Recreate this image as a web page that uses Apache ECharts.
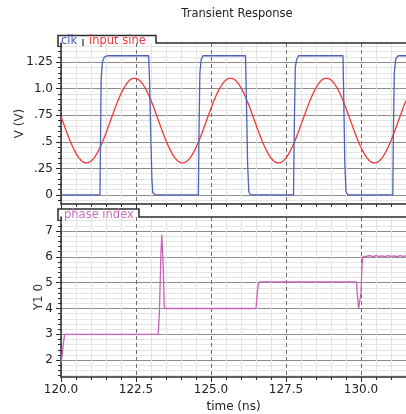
<!DOCTYPE html>
<html>
<head>
<meta charset="utf-8">
<script src="https://cdn.jsdelivr.net/npm/echarts@6/dist/echarts.min.js"></script>
<style>
html,body{margin:0;padding:0;background:#fff;}
#chart{width:406px;height:414px;}
</style>
</head>
<body>
<div id="chart"></div>
<script>
// ---- data ----
const titleText = 'Transient Response';
const xTickValues = [120.0, 122.5, 125.0, 127.5, 130.0];
const xTickLabels = ['120.0', '122.5', '125.0', '127.5', '130.0'];
const topYTickValues = [0, 0.25, 0.5, 0.75, 1.0, 1.25];
const topYTickLabels = ['0', '.25', '.5', '.75', '1.0', '1.25'];
const botYTickValues = [2, 3, 4, 5, 6, 7];
const botYTickLabels = ['2', '3', '4', '5', '6', '7'];

// clk (V)
const clkTime = [120.00, 121.30, 121.32, 121.34, 121.38, 121.45, 121.55, 122.92, 122.95, 122.98, 123.03, 123.06, 123.15,
  124.58, 124.60, 124.63, 124.67, 124.73, 126.15, 126.18, 126.22, 126.26, 126.32,
  127.75, 127.78, 127.81, 127.85, 127.92, 129.40, 129.42, 129.46, 129.50, 129.56,
  131.06, 131.08, 131.11, 131.16, 131.24, 131.50];
const clkValue = [0, 0, 0.6, 1.1, 1.25, 1.30, 1.31, 1.31, 1.1, 0.7, 0.15, 0.02, 0,
  0, 0.6, 1.15, 1.27, 1.31, 1.31, 0.9, 0.3, 0.03, 0,
  0, 0.7, 1.2, 1.27, 1.31, 1.31, 1.0, 0.3, 0.03, 0,
  0, 0.6, 1.15, 1.28, 1.31, 1.31];

// input sine (V), sampled every 0.1 ns from 120.0 ns
const sineStart = 120.0;
const sineStep = 0.1;
const sineValue = [
  0.739, 0.661, 0.584, 0.511, 0.446, 0.391, 0.347, 0.317, 0.302, 0.302, 0.317, 0.347, 0.391, 0.446, 0.511, 0.584,
  0.661, 0.739, 0.816, 0.889, 0.954, 1.009, 1.053, 1.083, 1.098, 1.098, 1.083, 1.053, 1.009, 0.954, 0.889, 0.816,
  0.739, 0.661, 0.584, 0.511, 0.446, 0.391, 0.347, 0.317, 0.302, 0.302, 0.317, 0.347, 0.391, 0.446, 0.511, 0.584,
  0.661, 0.739, 0.816, 0.889, 0.954, 1.009, 1.053, 1.083, 1.098, 1.098, 1.083, 1.053, 1.009, 0.954, 0.889, 0.816,
  0.739, 0.661, 0.584, 0.511, 0.446, 0.391, 0.347, 0.317, 0.302, 0.302, 0.317, 0.347, 0.391, 0.446, 0.511, 0.584,
  0.661, 0.739, 0.816, 0.889, 0.954, 1.009, 1.053, 1.083, 1.098, 1.098, 1.083, 1.053, 1.009, 0.954, 0.889, 0.816,
  0.739, 0.661, 0.584, 0.511, 0.446, 0.391, 0.347, 0.317, 0.302, 0.302, 0.317, 0.347, 0.391, 0.446, 0.511, 0.584,
  0.661, 0.739, 0.816, 0.889
];

// phase index
const phaseTime = [120.00, 120.03, 120.06, 120.08, 120.10, 120.12, 123.24, 123.26, 123.28, 123.30, 123.33, 123.36, 123.39,
  123.41, 123.44, 123.47, 126.50, 126.55, 126.58, 126.62, 129.85, 129.88, 129.92, 129.97, 130.00, 130.03, 130.06,
  130.20, 130.30, 130.40, 130.50, 130.60, 130.70, 130.80, 130.90, 131.00, 131.10, 131.20, 131.30, 131.40, 131.50];
const phaseValue = [1.95, 2.1, 2.1, 2.65, 2.7, 3.0, 3.0, 2.95, 3.85, 3.9, 6.1, 6.85, 6.8,
  5.5, 4.1, 4.0, 4.0, 4.7, 4.95, 5.03, 5.03, 4.5, 4.0, 4.0, 4.6, 5.6, 6.0,
  6.03, 6.05, 6.01, 6.05, 6.02, 6.04, 6.01, 6.05, 6.02, 6.04, 6.01, 6.05, 6.02, 6.04];

// ---- build ----
const pairs = (xs, ys) => xs.map((x, i) => [x, ys[i]]);
const sineData = sineValue.map((v, i) => [+(sineStart + i * sineStep).toFixed(2), v]);
const lab = (vals, labels) => (v) => {
  for (let i = 0; i < vals.length; i++) if (Math.abs(vals[i] - v) < 1e-6) return labels[i];
  return '';
};
// minor grid positions (5 subdivisions between labelled ticks)
function minorPositions(majors, lo, hi) {
  const step = (majors[1] - majors[0]) / 5;
  const out = [];
  for (let v = majors[0] - step * Math.floor((majors[0] - lo) / step); v <= hi + 1e-9; v += step) {
    out.push(+v.toFixed(4));
  }
  return out;
}

const FONT = 'DejaVu Sans';
const axisDark = '#2b2b2b';
const majorGrid = '#8c8c8c';
const minorGrid = '#e4e4e4';

const TOP_MIN = -0.085, TOP_MAX = 1.43;
const BOT_MIN = 1.35, BOT_MAX = 7.54;

function xAxisCfg(gridIndex, showLabels) {
  return {
    type: 'value', gridIndex, position: 'bottom', min: 120, max: 131.5, interval: 2.5,
    axisLine: { show: true, onZero: false, lineStyle: { color: axisDark, width: 1.5 } },
    axisTick: { show: true, length: 5, lineStyle: { color: axisDark } },
    minorTick: { show: true, splitNumber: 5, length: 3, lineStyle: { color: axisDark } },
    axisLabel: { show: showLabels, formatter: lab(xTickValues, xTickLabels), color: '#222', fontFamily: FONT, fontSize: 12, margin: 7, showMaxLabel: false },
    splitLine: { show: true, lineStyle: { color: '#6e6e6e', type: [4, 3], width: 1 } },
    minorSplitLine: { show: true, lineStyle: { color: minorGrid, width: 1 } },
    name: showLabels ? 'time (ns)' : '', nameLocation: 'middle', nameGap: 24, nameMoveOverlap: false,
    nameTextStyle: { color: '#222', fontFamily: FONT, fontSize: 12 }
  };
}

// minor y axis: light grid + short ticks
function yMinorCfg(gridIndex, min, max, majors) {
  return {
    type: 'value', gridIndex, position: 'left', min, max,
    axisLine: { show: false },
    axisTick: { show: true, length: 3, customValues: minorPositions(majors, min, max), lineStyle: { color: axisDark } },
    axisLabel: { show: false },
    splitLine: { show: true, lineStyle: { color: minorGrid, width: 1 } }
  };
}
// major y axis: labels, long ticks, dark grid
function yMajorCfg(gridIndex, min, max, vals, labels, name, nameGap) {
  return {
    type: 'value', gridIndex, position: 'left', min, max,
    axisLine: { show: true, onZero: false, lineStyle: { color: axisDark, width: 1.5 } },
    axisTick: { show: true, length: 5, customValues: vals, lineStyle: { color: axisDark } },
    axisLabel: { customValues: vals, formatter: lab(vals, labels), color: '#222', fontFamily: FONT, fontSize: 12, margin: 8 },
    splitLine: { show: true, lineStyle: { color: majorGrid, width: 1 } },
    name, nameLocation: 'middle', nameGap, nameRotate: 90, nameMoveOverlap: false,
    nameTextStyle: { color: '#333', fontFamily: FONT, fontSize: 12 }
  };
}

const chart = echarts.init(document.getElementById('chart'), null, { renderer: 'canvas' });
chart.setOption({
  animation: false,
  backgroundColor: '#fff',
  title: { text: titleText, left: 232, top: 3, textAlign: 'center',
    textStyle: { fontFamily: FONT, fontSize: 11.5, fontWeight: 'normal', color: '#222' } },
  grid: [
    { left: 61, top: 43, right: 0, height: 161 },
    { left: 61, top: 217, right: 0, height: 161 }
  ],
  xAxis: [xAxisCfg(0, false), xAxisCfg(1, true)],
  yAxis: [
    yMinorCfg(0, TOP_MIN, TOP_MAX, topYTickValues),
    yMajorCfg(0, TOP_MIN, TOP_MAX, topYTickValues, topYTickLabels, 'V (V)', 35),
    yMinorCfg(1, BOT_MIN, BOT_MAX, botYTickValues),
    yMajorCfg(1, BOT_MIN, BOT_MAX, botYTickValues, botYTickLabels, 'Y1 0', 16)
  ],
  series: [
    { name: 'input sine', type: 'line', xAxisIndex: 0, yAxisIndex: 1, data: sineData, showSymbol: false,
      lineStyle: { color: '#ec3a3a', width: 1.3 }, itemStyle: { color: '#ec3a3a' }, z: 3 },
    { name: 'clk', type: 'line', xAxisIndex: 0, yAxisIndex: 1, data: pairs(clkTime, clkValue), showSymbol: false,
      lineStyle: { color: '#4d63b6', width: 1.3 }, itemStyle: { color: '#4d63b6' }, z: 4 },
    { name: 'phase index', type: 'line', xAxisIndex: 1, yAxisIndex: 3, data: pairs(phaseTime, phaseValue), showSymbol: false,
      lineStyle: { color: '#c862b8', width: 1.3 }, itemStyle: { color: '#c862b8' }, z: 3 }
  ],
  graphic: [
    // top tab
    { type: 'polyline', z: 10, shape: { points: [[58, 47], [58, 35.5], [156, 35.5], [156, 43], [406, 43]] },
      style: { stroke: axisDark, lineWidth: 1.5, fill: null } },
    { type: 'line', z: 10, shape: { x1: 83, y1: 39, x2: 83, y2: 46 }, style: { stroke: axisDark, lineWidth: 1.2 } },
    { type: 'text', z: 11, left: 61, top: 35.5, style: { text: 'clk', fill: '#4158b0', font: '11.5px "DejaVu Sans"' } },
    { type: 'text', z: 11, left: 89, top: 35.5, style: { text: 'input sine', fill: '#f03a3a', font: '11.5px "DejaVu Sans"' } },
    // bottom tab
    { type: 'polyline', z: 10, shape: { points: [[58, 221], [58, 209], [139, 209], [139, 217], [406, 217]] },
      style: { stroke: axisDark, lineWidth: 1.5, fill: null } },
    { type: 'text', z: 11, left: 64, top: 209, style: { text: 'phase index', fill: '#cc6fbe', font: '11.5px "DejaVu Sans"' } }
  ]
});
</script>
</body>
</html>
